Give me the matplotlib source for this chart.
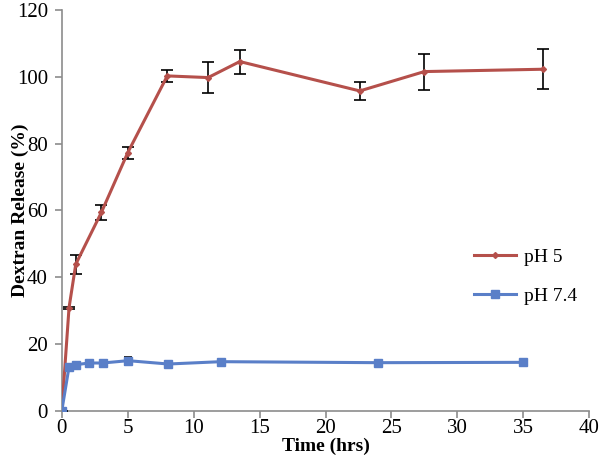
import matplotlib
matplotlib.use("Agg")
from matplotlib import pyplot as plt

plt.rcParams['font.family'] = ['Liberation Serif', 'DejaVu Serif']

# dados
t_ph5 = [0, 0.55, 1.06, 3.0, 5.0, 8.0, 11.1, 13.5, 22.6, 27.5, 36.5]
rel_ph5 = [0, 30.9, 43.9, 59.4, 77.3, 100.3, 99.8, 104.6, 95.8, 101.6, 102.3]
err_ph5 = [0, 0.3, 2.8, 2.3, 1.8, 1.8, 4.7, 3.6, 2.6, 5.4, 6.0]

t_ph74 = [0, 0.55, 1.06, 2.07, 3.09, 5.03, 8.07, 12.06, 24.0, 34.95]
rel_ph74 = [0, 13.2, 13.8, 14.3, 14.3, 15.0, 14.0, 14.7, 14.4, 14.5]
err_ph74 = [0, 0.5, 0.6, 0.6, 0.6, 1.2, 0.6, 0.6, 0.5, 0.6]

red = "#B5504B"
blue = "#5A7FC8"

fig = plt.figure(figsize=(6, 4.61), dpi=100)
ax = fig.add_axes([0.103, 0.109, 0.879, 0.869])

ax.errorbar(t_ph5, rel_ph5, yerr=err_ph5, color=red, linewidth=2.2,
            marker="D", markersize=3, ecolor="black", elinewidth=1.2,
            capsize=4, capthick=1.2, label="pH 5", zorder=3)
ax.errorbar(t_ph74, rel_ph74, yerr=err_ph74, color=blue, linewidth=2.2,
            marker="s", markersize=6, ecolor="black", elinewidth=1.2,
            capsize=3, capthick=1.2, label="pH 7.4", zorder=3)

ax.set_xlim(0, 40)
ax.set_ylim(0, 120)
ax.set_xticks(range(0, 41, 5))
ax.set_yticks(range(0, 121, 20))

for s in ["top", "right"]:
    ax.spines[s].set_visible(False)
for s in ["left", "bottom"]:
    ax.spines[s].set_color("#8c8c8c")
    ax.spines[s].set_linewidth(1.2)
ax.tick_params(direction="out", color="#8c8c8c", length=5, width=1.2,
               labelsize=15)
ax.tick_params(axis="x", pad=1)
ax.tick_params(axis="y", pad=5)

ax.set_xlabel("Time (hrs)", fontsize=14, fontweight="bold", labelpad=0)
ax.set_ylabel("Dextran Release (%)", fontsize=14, fontweight="bold")
ax.yaxis.set_label_coords(-0.063, 0.5)

# legenda sem caixa, sem as barras de erro
h, l = ax.get_legend_handles_labels()
h = [x[0] for x in h]
ax.legend(h, l, loc="center left", bbox_to_anchor=(0.76, 0.40),
          bbox_transform=fig.transFigure, frameon=False, fontsize=14,
          handlelength=2.2, handletextpad=0.4, labelspacing=1.1)

plt.savefig("out.png", dpi=100)
plt.close()
